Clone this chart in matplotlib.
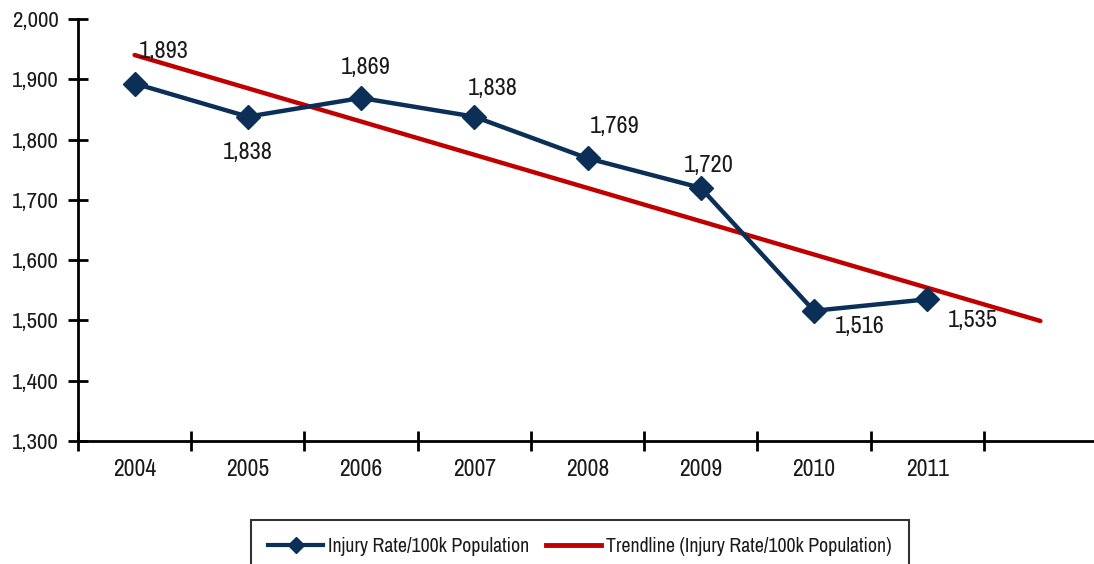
import matplotlib
matplotlib.use("Agg")
import matplotlib.pyplot as plt
import numpy as np
from matplotlib.lines import Line2D

years = ["2004", "2005", "2006", "2007", "2008", "2009", "2010", "2011"]
rates = [1893, 1838, 1869, 1838, 1769, 1720, 1516, 1535]
labels = ["1,893", "1,838", "1,869", "1,838", "1,769", "1,720", "1,516", "1,535"]
forecast_periods = 1

plt.rcParams["font.family"] = ["Archivo Narrow", "DejaVu Sans"]

navy = "#0B2F57"
red = "#C00000"
txt = "#1a1a1a"

fig = plt.figure(figsize=(10.94, 5.64), dpi=100)
ax = fig.add_axes([78 / 1094, 1 - 441 / 564, (1097 - 78) / 1094, (441 - 19) / 564])

x = np.arange(len(years))
ax.plot(x, rates, color=navy, lw=3.2, marker="D", ms=12, zorder=3, clip_on=False)

coef = np.polyfit(x, rates, 1)
xt = np.array([0, len(years) - 1 + forecast_periods])
ax.plot(xt, np.polyval(coef, xt), color=red, lw=3.2, zorder=2, solid_capstyle="round")

offsets = [(29, 32), (0, -36), (5, 30), (18, 28), (27, 32), (8, 22), (46, -16), (46, -21)]
for xi, yi, lab, off in zip(x, rates, labels, offsets):
    ax.annotate(lab, (xi, yi), xytext=off, textcoords="offset pixels",
                ha="center", va="center", fontsize=17.5, color=txt, zorder=4)

ax.set_xlim(-0.5, len(years) - 0.5 + forecast_periods)
ax.set_ylim(1300, 2000)
ax.set_yticks(np.arange(1300, 2001, 100))
ax.set_yticklabels([f"{v:,}" for v in range(1300, 2001, 100)], fontsize=16.5, color=txt)
ax.set_xticks(x)
ax.set_xticklabels(years, fontsize=17, color=txt)
ax.tick_params(axis="x", length=0, pad=13)
ax.set_xticks(np.arange(-0.5, len(years) - 0.5 + forecast_periods, 1), minor=True)
ax.tick_params(axis="x", which="minor", length=14, width=2, direction="inout")
ax.tick_params(axis="y", length=14, width=2, direction="inout", pad=7)

for s in ["top", "right"]:
    ax.spines[s].set_visible(False)
for s in ["left", "bottom"]:
    ax.spines[s].set_linewidth(2)

handles = [Line2D([], [], color=navy, lw=3, marker="D", ms=8),
           Line2D([], [], color=red, lw=3.5)]
leg = fig.legend(handles, ["Injury Rate/100k Population", "Trendline (Injury Rate/100k Population)"],
                 loc="upper center", bbox_to_anchor=(0.530, 0.078), ncol=2, fontsize=14.3,
                 frameon=True, fancybox=False, edgecolor="black", handlelength=2.8,
                 handletextpad=0.25, columnspacing=0.8, borderpad=0.85, borderaxespad=0)
leg.get_frame().set_linewidth(1.5)
for t in leg.get_texts():
    t.set_color(txt)

fig.savefig("out.png", dpi=100)
